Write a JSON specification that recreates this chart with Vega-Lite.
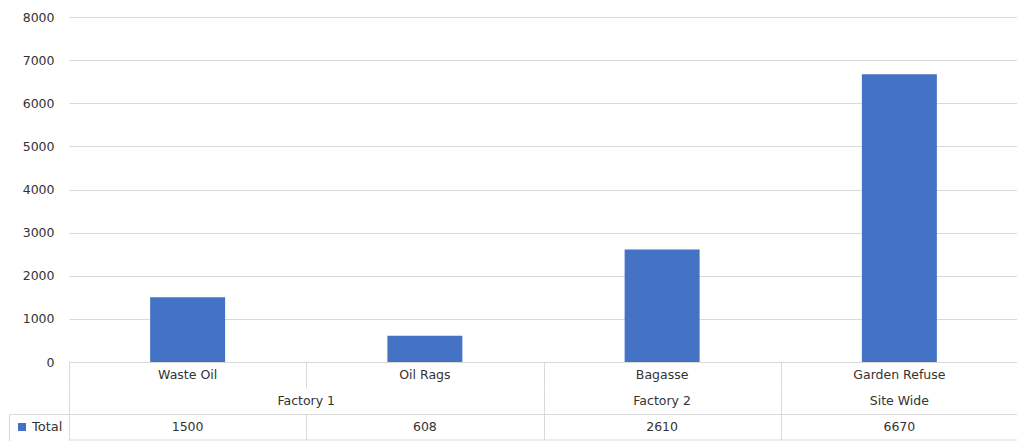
{
  "$schema": "https://vega.github.io/schema/vega-lite/v6.json",
  "background": "white",
  "padding": {"left": 8, "top": 11, "right": 0, "bottom": 0},
  "spacing": 0,
  "bounds": "flush",
  "config": {
    "view": {"stroke": null},
    "font": "DejaVu Sans",
    "axis": {"labelFont": "DejaVu Sans", "labelFontSize": 12.5, "labelColor": "#333333"}
  },
  "data": {
    "values": [
      {"category": "Waste Oil", "group": "Factory 1", "Total": 1500},
      {"category": "Oil Rags", "group": "Factory 1", "Total": 608},
      {"category": "Bagasse", "group": "Factory 2", "Total": 2610},
      {"category": "Garden Refuse", "group": "Site Wide", "Total": 6670}
    ]
  },
  "vconcat": [
    {
      "width": 949,
      "height": 345,
      "transform": [{"fold": ["Total"], "as": ["series", "value"]}],
      "mark": {"type": "bar"},
      "encoding": {
        "x": {
          "field": "category", "type": "nominal", "sort": null,
          "scale": {"paddingInner": 0.684, "paddingOuter": 0.342},
          "axis": {"labels": false, "ticks": false, "title": null, "domain": true, "domainColor": "#d9d9d9", "grid": false}
        },
        "y": {
          "field": "value", "type": "quantitative",
          "scale": {"domain": [0, 8000], "nice": false},
          "axis": {"values": [0, 1000, 2000, 3000, 4000, 5000, 6000, 7000, 8000], "format": "d", "title": null, "domain": false, "ticks": false, "tickSize": 0, "labelPadding": 15, "grid": true, "gridColor": "#d9d9d9"}
        },
        "color": {
          "field": "series", "type": "nominal",
          "scale": {"range": ["#4472C4"]},
          "legend": {
            "orient": "none", "legendX": -60, "legendY": 397, "title": null,
            "symbolType": "square", "symbolSize": 64, "symbolStrokeWidth": 0,
            "labelFont": "DejaVu Sans", "labelFontSize": 13, "labelColor": "#333333",
            "labelOffset": 3.5, "padding": 6.5, "strokeColor": "#d9d9d9"
          }
        }
      }
    },
    {
      "width": 949,
      "height": 26,
      "transform": [{"window": [{"op": "row_number", "as": "idx"}]}],
      "mark": {"type": "text", "font": "DejaVu Sans", "fontSize": 12.5, "color": "#333333"},
      "encoding": {
        "x": {
          "field": "idx", "type": "quantitative",
          "scale": {"domain": [0.5, 4.5], "nice": false, "zero": false},
          "axis": {"values": [0.5, 1.5, 2.5, 3.5], "grid": true, "gridColor": "#d9d9d9", "labels": false, "ticks": false, "domain": false, "title": null}
        },
        "text": {"field": "category", "type": "nominal"}
      }
    },
    {
      "width": 949,
      "height": 26,
      "transform": [
        {"window": [{"op": "row_number", "as": "idx"}]},
        {"aggregate": [{"op": "mean", "field": "idx", "as": "mid"}], "groupby": ["group"]}
      ],
      "mark": {"type": "text", "font": "DejaVu Sans", "fontSize": 12.5, "color": "#333333"},
      "encoding": {
        "x": {
          "field": "mid", "type": "quantitative",
          "scale": {"domain": [0.5, 4.5], "nice": false, "zero": false},
          "axis": {"values": [0.5, 2.5, 3.5], "grid": true, "gridColor": "#d9d9d9", "labels": false, "ticks": false, "domain": true, "domainColor": "#d9d9d9", "title": null}
        },
        "text": {"field": "group", "type": "nominal"}
      }
    },
    {
      "width": 949,
      "height": 25.5,
      "transform": [{"window": [{"op": "row_number", "as": "idx"}]}],
      "mark": {"type": "text", "font": "DejaVu Sans", "fontSize": 12.5, "color": "#333333"},
      "encoding": {
        "x": {
          "field": "idx", "type": "quantitative",
          "scale": {"domain": [0.5, 4.5], "nice": false, "zero": false},
          "axis": {"values": [0.5, 1.5, 2.5, 3.5], "grid": true, "gridColor": "#d9d9d9", "labels": false, "ticks": false, "domain": true, "domainColor": "#d9d9d9", "title": null}
        },
        "text": {"field": "Total", "type": "quantitative", "format": "d"}
      }
    }
  ]
}
